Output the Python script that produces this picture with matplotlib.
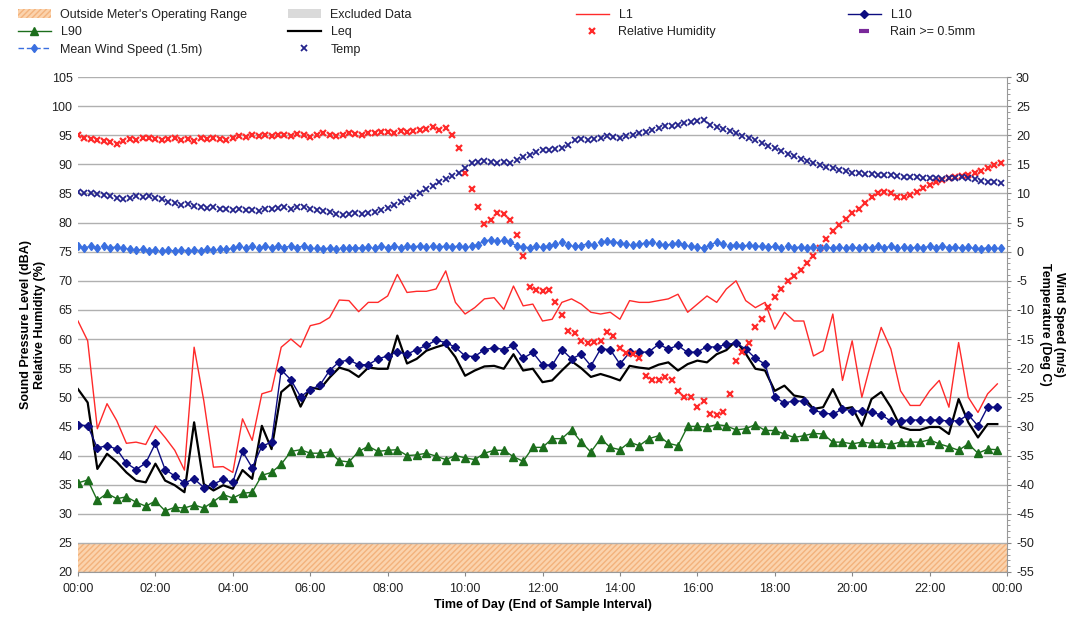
import matplotlib
matplotlib.use("Agg")
import matplotlib.pyplot as plt
from matplotlib.lines import Line2D
from matplotlib.patches import Patch
from matplotlib.ticker import MultipleLocator, FuncFormatter
import numpy as np

plt.rcParams['font.family'] = ['Liberation Sans', 'DejaVu Sans']

# ---------------- data ----------------
# 15-minute noise statistics (dBA), 96 intervals starting 00:00
L1 = [63.1, 59.7, 44.6, 48.9, 46.0, 42.1, 42.3, 41.9, 45.1, 43.1, 40.9, 37.5,
      58.6, 49.4, 38.0, 38.1, 37.1, 46.3, 42.6, 50.6, 51.1, 58.6, 60.0, 58.6,
      62.3, 62.7, 63.7, 66.7, 66.6, 64.7, 66.3, 66.3, 67.4, 71.1, 68.0, 68.2,
      68.2, 68.6, 71.7, 66.3, 64.3, 65.4, 66.9, 67.1, 65.1, 69.1, 65.7, 66.0,
      63.1, 63.4, 66.3, 66.9, 66.0, 64.6, 64.3, 64.6, 63.4, 66.6, 66.3, 66.3,
      66.6, 66.9, 67.7, 64.6, 66.0, 67.4, 66.3, 68.6, 70.0, 66.6, 65.4, 66.3,
      61.7, 64.6, 63.1, 63.1, 57.1, 58.0, 64.3, 52.9, 59.7, 50.0, 56.3, 62.0,
      58.3, 51.1, 48.6, 48.6, 51.1, 52.9, 48.3, 59.4, 50.0, 47.4, 50.6, 52.3]
L10 = [45.3, 45.1, 41.3, 41.7, 41.1, 38.7, 37.6, 38.7, 42.1, 37.6, 36.5, 35.3,
       36.0, 34.5, 35.1, 35.9, 35.4, 40.7, 37.9, 41.6, 42.3, 54.7, 53.0, 50.1,
       51.3, 52.1, 54.6, 56.1, 56.4, 55.6, 55.6, 56.6, 57.1, 57.8, 57.4, 58.2,
       58.9, 59.8, 59.4, 58.6, 57.1, 57.0, 58.2, 58.5, 58.2, 58.9, 56.7, 57.7,
       55.6, 55.5, 58.2, 56.6, 57.4, 55.4, 58.3, 58.2, 55.7, 57.7, 57.7, 57.8,
       59.1, 58.3, 58.9, 57.7, 57.8, 58.7, 58.6, 59.1, 59.3, 58.3, 56.7, 55.7,
       50.1, 49.0, 49.4, 49.3, 47.8, 47.3, 47.1, 48.0, 47.7, 47.6, 47.4, 47.0,
       45.9, 46.0, 46.1, 46.1, 46.1, 46.1, 45.9, 46.0, 47.0, 45.1, 48.3, 48.3]
L90 = [35.3, 35.8, 32.3, 33.5, 32.6, 32.9, 32.0, 31.3, 32.2, 30.5, 31.1, 31.0,
       31.5, 31.0, 32.1, 33.3, 32.7, 33.5, 33.7, 36.6, 37.1, 38.5, 40.7, 41.0,
       40.4, 40.4, 40.6, 39.1, 38.9, 40.7, 41.6, 40.7, 40.9, 41.0, 40.0, 40.1,
       40.4, 39.9, 39.3, 40.0, 39.6, 39.3, 40.4, 40.9, 40.9, 39.8, 39.0, 41.4,
       41.4, 42.9, 42.9, 44.4, 42.3, 40.6, 42.9, 41.4, 41.0, 42.3, 41.7, 42.9,
       43.4, 42.1, 41.7, 45.0, 45.0, 44.9, 45.3, 45.1, 44.4, 44.6, 45.3, 44.3,
       44.3, 43.7, 43.1, 43.4, 43.8, 43.7, 42.3, 42.3, 42.0, 42.3, 42.1, 42.1,
       41.9, 42.3, 42.3, 42.3, 42.7, 42.0, 41.5, 40.9, 42.0, 40.4, 41.1, 41.0]
Leq = [51.4, 49.1, 37.7, 40.3, 38.9, 37.1, 35.7, 35.4, 38.6, 35.7, 34.9, 33.7,
       45.7, 35.1, 34.0, 34.9, 34.3, 37.5, 36.0, 45.1, 41.1, 50.9, 52.3, 48.4,
       51.7, 51.4, 53.4, 55.1, 54.6, 53.5, 55.1, 54.9, 54.9, 60.6, 55.8, 56.6,
       58.0, 58.6, 59.1, 56.9, 53.7, 54.6, 55.3, 55.4, 54.9, 57.4, 54.6, 54.9,
       52.6, 52.9, 54.6, 56.2, 55.0, 53.5, 54.0, 53.5, 52.9, 55.4, 55.1, 54.9,
       55.6, 56.0, 54.6, 55.7, 56.3, 56.0, 57.4, 58.1, 59.7, 57.5, 54.9, 54.6,
       51.1, 52.0, 50.3, 50.0, 48.0, 48.3, 51.4, 48.0, 48.3, 45.1, 49.7, 50.9,
       48.3, 44.9, 44.4, 44.4, 44.9, 44.9, 43.7, 49.7, 45.7, 43.1, 45.4, 45.4]

# 10-minute weather data, 144 samples starting 00:00
humidity = [95.0, 94.6, 94.4, 94.2, 94.0, 93.9, 93.5, 94.0, 94.4, 94.2, 94.5, 94.6,
            94.3, 94.1, 94.4, 94.6, 94.2, 94.4, 94.0, 94.5, 94.3, 94.5, 94.3, 94.2,
            94.6, 94.8, 94.7, 95.0, 94.8, 95.0, 94.9, 95.1, 95.0, 94.8, 95.2, 95.0,
            94.7, 95.0, 95.3, 95.1, 94.8, 95.1, 95.4, 95.2, 95.0, 95.4, 95.3, 95.5,
            95.6, 95.4, 95.7, 95.6, 95.8, 95.9, 96.0, 96.4, 95.9, 96.3, 95.0, 92.8,
            88.6, 85.7, 82.6, 79.8, 80.5, 81.6, 81.4, 80.4, 77.9, 74.3, 68.9, 68.4,
            68.2, 68.5, 66.4, 64.1, 61.4, 61.0, 59.6, 59.4, 59.5, 59.6, 61.2, 60.6,
            58.5, 57.6, 57.4, 56.8, 53.6, 53.0, 52.9, 53.4, 52.9, 51.0, 50.1, 50.0,
            48.3, 49.3, 47.2, 47.0, 47.5, 50.6, 56.3, 57.8, 59.4, 62.0, 63.5, 65.5,
            67.3, 68.6, 70.0, 70.9, 71.8, 73.0, 74.2, 75.6, 77.2, 78.5, 79.6, 80.7,
            81.6, 82.4, 83.3, 84.4, 85.0, 85.3, 85.0, 84.4, 84.4, 84.7, 85.3, 85.9,
            86.5, 87.0, 87.3, 87.7, 87.8, 88.0, 88.2, 88.5, 88.8, 89.4, 89.9, 90.2]
temp = [10.2, 10.0, 10.1, 9.9, 9.8, 9.6, 9.2, 9.0, 9.3, 9.5, 9.4, 9.6,
        9.2, 9.0, 8.6, 8.4, 8.0, 8.2, 7.8, 7.6, 7.5, 7.7, 7.4, 7.3,
        7.2, 7.3, 7.1, 7.2, 7.0, 7.3, 7.3, 7.5, 7.6, 7.4, 7.7, 7.6,
        7.4, 7.2, 7.0, 6.8, 6.5, 6.3, 6.4, 6.6, 6.5, 6.7, 6.8, 7.1,
        7.5, 8.0, 8.6, 9.1, 9.5, 10.1, 10.8, 11.3, 11.9, 12.5, 13.0, 13.6,
        14.4, 15.2, 15.4, 15.5, 15.4, 15.3, 15.4, 15.3, 15.8, 16.3, 16.6, 17.2,
        17.4, 17.5, 17.6, 17.8, 18.4, 19.1, 19.3, 19.2, 19.4, 19.6, 19.9, 19.7,
        19.6, 19.8, 20.1, 20.3, 20.5, 20.9, 21.3, 21.6, 21.5, 21.8, 22.1, 22.3,
        22.4, 22.6, 21.8, 21.4, 21.0, 20.7, 20.3, 19.9, 19.5, 19.1, 18.7, 18.2,
        17.8, 17.3, 16.8, 16.4, 16.0, 15.6, 15.3, 14.9, 14.6, 14.3, 14.0, 13.8,
        13.6, 13.5, 13.4, 13.3, 13.2, 13.1, 13.1, 13.0, 12.9, 12.8, 12.8, 12.7,
        12.6, 12.6, 12.5, 12.6, 12.7, 12.8, 12.6, 12.4, 12.2, 12.0, 11.9, 11.8]
wind = [0.9, 0.7, 0.9, 0.7, 0.9, 0.7, 0.8, 0.6, 0.5, 0.3, 0.4, 0.2,
        0.3, 0.1, 0.3, 0.1, 0.3, 0.2, 0.3, 0.2, 0.4, 0.3, 0.5, 0.4,
        0.6, 0.9, 0.6, 0.9, 0.6, 0.9, 0.7, 1.0, 0.7, 1.0, 0.7, 1.0,
        0.6, 0.7, 0.5, 0.6, 0.5, 0.7, 0.6, 0.7, 0.6, 0.8, 0.7, 0.9,
        0.7, 1.0, 0.7, 1.0, 0.8, 1.0, 0.8, 1.0, 0.8, 1.0, 0.8, 1.0,
        0.8, 1.0, 1.2, 1.9, 2.0, 1.8, 2.0, 1.6, 1.0, 0.8, 0.7, 0.9,
        0.8, 1.0, 1.3, 1.6, 1.2, 0.9, 1.0, 1.4, 1.1, 1.6, 1.8, 1.7,
        1.5, 1.3, 1.1, 1.3, 1.5, 1.6, 1.3, 1.1, 1.3, 1.5, 1.2, 1.0,
        0.8, 0.6, 1.2, 1.6, 1.3, 1.0, 1.2, 1.0, 1.1, 0.9, 1.0, 0.8,
        0.9, 0.7, 0.9, 0.7, 0.8, 0.6, 0.8, 0.6, 0.8, 0.6, 0.8, 0.6,
        0.8, 0.6, 0.8, 0.7, 0.9, 0.7, 0.9, 0.7, 0.8, 0.6, 0.8, 0.7,
        0.9, 0.7, 0.9, 0.7, 0.8, 0.6, 0.8, 0.6, 0.5, 0.7, 0.6, 0.7]

hour_ticks = [0, 2, 4, 6, 8, 10, 12, 14, 16, 18, 20, 22, 24]
operating_floor = 25

t15 = np.arange(len(L1)) * 0.25
t10 = np.arange(len(temp)) / 6.0

# ---------------- figure ----------------
W, H = 1075, 620
fig = plt.figure(figsize=(W / 100, H / 100), dpi=100)
x0, x1, y0, y1 = 78, 1007, 77, 572
ax = fig.add_axes([x0 / W, 1 - y1 / H, (x1 - x0) / W, (y1 - y0) / H])
ax2 = ax.twinx()

ax.set_xlim(0, 24)
ax.set_ylim(20, 105)
ax2.set_ylim(-55, 30)

grid_c = '#b0b0b0'
ax.yaxis.set_major_locator(MultipleLocator(5))
ax.grid(axis='y', color=grid_c, lw=1.0)
ax.set_axisbelow(True)

band = ax.axhspan(20, operating_floor, facecolor='#fbd3ad', edgecolor='#f3b27c',
                  hatch='//////', lw=0, zorder=0.5)

red = '#ff2a2a'
navy = '#0c0c80'
green = '#1c6e1c'
wind_c = '#3a6fe0'
temp_c = '#23238c'

ax.plot(t15, L1, color=red, lw=1.0, zorder=3)
ax.plot(t15, L90, color=green, lw=1.0, marker='^', ms=5.5, zorder=3)
ax.plot(t15, Leq, color='black', lw=1.6, zorder=4)
ax.plot(t15, L10, color=navy, lw=1.0, marker='D', ms=4.5, zorder=5)
ax.plot(t10, humidity, ls='none', marker='x', color=red, ms=5, mew=1.6, zorder=6)

ax2.plot(t10, wind, color=wind_c, lw=1.0, ls=(0, (4, 2)), marker='d', ms=4.5, zorder=3)
ax2.plot(t10, temp, ls='none', marker='x', color=temp_c, ms=5, mew=1.3, zorder=3)

# ticks
ax.set_xticks(hour_ticks)
ax.set_xticklabels(['%02d:00' % (h % 24) for h in hour_ticks])
ax2.yaxis.set_major_locator(MultipleLocator(5))
ax2.yaxis.set_minor_locator(MultipleLocator(1))
ax2.yaxis.set_major_formatter(FuncFormatter(lambda v, p: '%d' % v))
for a in (ax, ax2):
    a.tick_params(labelsize=9, colors='#222222', length=3, width=0.8)
    for s in a.spines.values():
        s.set_visible(False)
ax.tick_params(axis='y', length=0, pad=4)
ax.tick_params(axis='x', length=3, color='#888888', pad=5)
ax2.tick_params(axis='y', which='both', color='#888888')
ax2.tick_params(axis='y', which='minor', length=2)
ax2.spines['right'].set_visible(True)
ax2.spines['right'].set_color('#999999')
ax.spines['bottom'].set_visible(True)
ax.spines['bottom'].set_color('#999999')

ax.set_ylabel('Sound Pressure Level (dBA)\nRelative Humidity (%)', fontsize=9,
              fontweight='bold', labelpad=4)
ax2.set_ylabel('Wind Speed (m/s)\nTemperature (Deg C)', fontsize=9,
               fontweight='bold', rotation=270, labelpad=22)
ax.set_xlabel('Time of Day (End of Sample Interval)', fontsize=9,
              fontweight='bold', labelpad=3)

# ---------------- legend (4 columns) ----------------
h_out = Patch(facecolor='#fbd3ad', edgecolor='#f3b27c', hatch='//////', lw=0)
h_exc = Patch(facecolor='#dadada', edgecolor='none')
h_l1 = Line2D([], [], color=red, lw=1.0)
h_l10 = Line2D([], [], color=navy, lw=1.0, marker='D', ms=4.5)
h_l90 = Line2D([], [], color=green, lw=1.0, marker='^', ms=5.5)
h_leq = Line2D([], [], color='black', lw=1.6)
h_rh = Line2D([], [], ls='none', color=red, marker='x', ms=5, mew=1.6)
h_rain = Line2D([], [], ls='none', color='#7a2a9a', marker='_', ms=7, mew=3)
h_wind = Line2D([], [], color=wind_c, lw=1.0, ls=(0, (4, 2)), marker='d', ms=4.5)
h_temp = Line2D([], [], ls='none', color=temp_c, marker='x', ms=5, mew=1.3)

cols = [
    (18, [h_out, h_l90, h_wind], ["Outside Meter's Operating Range", 'L90', 'Mean Wind Speed (1.5m)']),
    (288, [h_exc, h_leq, h_temp], ['Excluded Data', 'Leq', 'Temp']),
    (576, [h_l1, h_rh], ['L1', 'Relative Humidity']),
    (848, [h_l10, h_rain], ['L10', 'Rain >= 0.5mm']),
]
for xpix, hs, ls_ in cols:
    lg = fig.legend(hs, ls_, loc='upper left', bbox_to_anchor=(xpix / W, 1 - 9 / H),
                    frameon=False, fontsize=9, labelspacing=0.42, handlelength=2.6,
                    handletextpad=0.8, borderpad=0, borderaxespad=0)
    for tx in lg.get_texts():
        tx.set_color('#222222')

fig.savefig('out.png', dpi=100)
